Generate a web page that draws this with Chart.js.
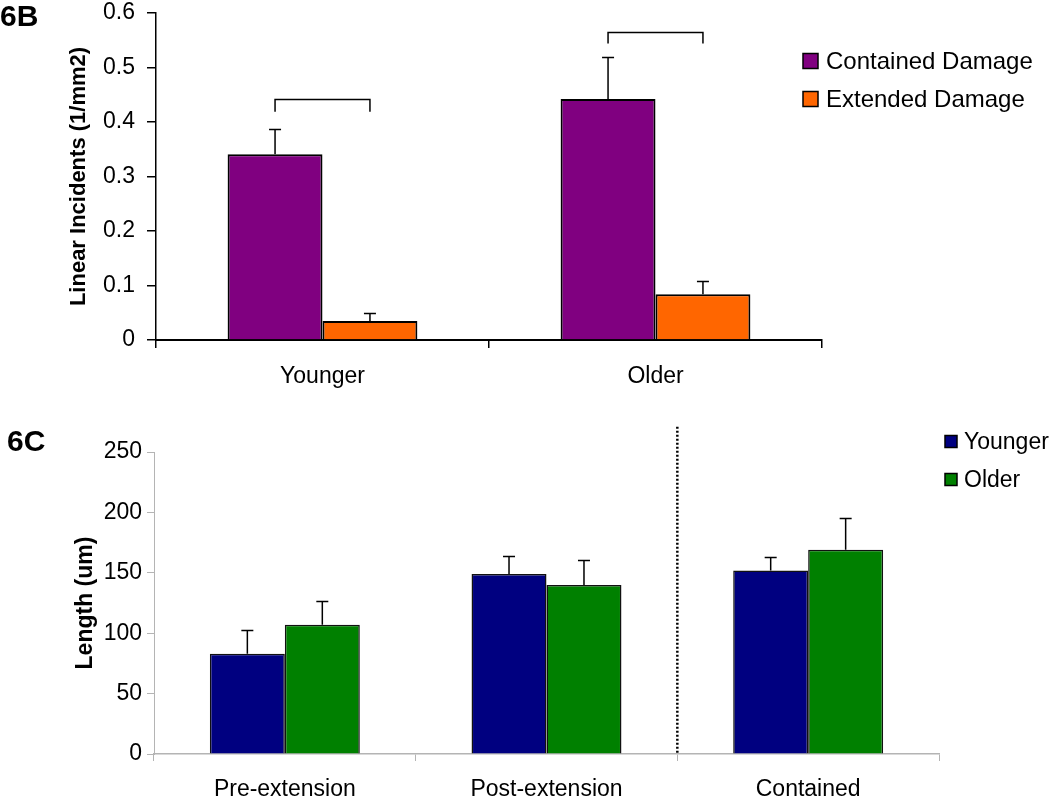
<!DOCTYPE html>
<html>
<head>
<meta charset="utf-8">
<script src="https://cdn.jsdelivr.net/npm/chart.js@4.4.1/dist/chart.umd.min.js"></script>
<style>
  html, body { margin: 0; padding: 0; background: #fff; }
  #wrap { position: relative; width: 1050px; height: 798px; overflow: hidden; }
  canvas { position: absolute; left: 0; }
  #c1 { top: 0; }
  #c2 { top: 395px; }
  .panel { position: absolute; font: bold 30px "Liberation Sans", Arial, sans-serif; line-height: 30px; color: #000; }
</style>
</head>
<body>
<div id="wrap">
  <canvas id="c1" width="1050" height="395"></canvas>
  <canvas id="c2" width="1050" height="403"></canvas>
  <div class="panel" style="left:0;top:1px">6B</div>
  <div class="panel" style="left:7px;top:426px">6C</div>
</div>
<script>
// 6B data
const groupsB = ["Younger", "Older"];
const containedDamage = [0.341, 0.442];
const containedDamageErr = [0.387, 0.519];
const extendedDamage = [0.035, 0.084];
const extendedDamageErr = [0.049, 0.109];
const bracketTop = [0.442, 0.566];
const bracketEnd = [0.419, 0.544];
const yTicksB = [0, 0.1, 0.2, 0.3, 0.4, 0.5, 0.6];

// 6C data
const groupsC = ["Pre-extension", "Post-extension", "Contained"];
const younger = [83, 149, 152];
const youngerErr = [103, 164, 163];
const older = [107, 140, 169];
const olderErr = [127, 161, 195];
const yTicksC = [0, 50, 100, 150, 200, 250];

Chart.defaults.font.family = '"Liberation Sans", Arial, sans-serif';
Chart.defaults.color = "#000";

// upper error bars, values taken from dataset.errorTop
const errorBars = {
  id: "errorBars",
  afterDatasetsDraw(chart, args, opts) {
    const ctx = chart.ctx;
    const y = chart.scales.y;
    ctx.save();
    ctx.strokeStyle = "#000";
    ctx.lineWidth = opts.width;
    chart.data.datasets.forEach((ds, i) => {
      chart.getDatasetMeta(i).data.forEach((bar, j) => {
        const top = Math.round(y.getPixelForValue(ds.errorTop[j])) + 0.5;
        ctx.beginPath();
        ctx.moveTo(bar.x, bar.y);
        ctx.lineTo(bar.x, top);
        ctx.moveTo(bar.x - opts.cap, top);
        ctx.lineTo(bar.x + opts.cap, top);
        ctx.stroke();
      });
    });
    ctx.restore();
  }
};

// square legend
const boxLegend = {
  id: "boxLegend",
  afterDraw(chart, args, o) {
    const ctx = chart.ctx;
    ctx.save();
    ctx.font = o.font;
    ctx.textBaseline = "middle";
    chart.data.datasets.forEach((ds, i) => {
      const cy = o.y + i * o.gap;
      ctx.fillStyle = ds.backgroundColor;
      ctx.fillRect(o.x, cy - o.box / 2, o.box, o.box);
      ctx.strokeStyle = "#000";
      ctx.lineWidth = 1.5;
      ctx.strokeRect(o.x, cy - o.box / 2, o.box, o.box);
      ctx.fillStyle = "#000";
      ctx.fillText(ds.label, o.x + o.box + o.textGap, cy + 1);
    });
    ctx.restore();
  }
};

const brackets = {
  id: "brackets",
  afterDatasetsDraw(chart) {
    const ctx = chart.ctx;
    const y = chart.scales.y;
    const a = chart.getDatasetMeta(0).data;
    const b = chart.getDatasetMeta(1).data;
    ctx.save();
    ctx.strokeStyle = "#000";
    ctx.lineWidth = 1.5;
    bracketTop.forEach((v, j) => {
      const yt = Math.round(y.getPixelForValue(v)) + 0.5;
      const ye = y.getPixelForValue(bracketEnd[j]);
      ctx.beginPath();
      ctx.moveTo(a[j].x, ye);
      ctx.lineTo(a[j].x, yt);
      ctx.lineTo(b[j].x, yt);
      ctx.lineTo(b[j].x, ye);
      ctx.stroke();
    });
    ctx.restore();
  }
};

const divider = {
  id: "divider",
  afterDatasetsDraw(chart, args, o) {
    const ctx = chart.ctx;
    const x = chart.scales.x, y = chart.scales.y;
    const px = (x.getPixelForValue(1) + x.getPixelForValue(2)) / 2;
    ctx.save();
    ctx.strokeStyle = "#000";
    ctx.lineWidth = 2.5;
    ctx.setLineDash([2, 2]);
    ctx.beginPath();
    ctx.moveTo(px, y.getPixelForValue(o.top));
    ctx.lineTo(px, y.getPixelForValue(0));
    ctx.stroke();
    ctx.restore();
  }
};

new Chart(document.getElementById("c1"), {
  type: "bar",
  data: {
    labels: groupsB,
    datasets: [
      { label: "Contained Damage", data: containedDamage, errorTop: containedDamageErr,
        backgroundColor: "#800080", borderColor: "#000", borderWidth: 2 },
      { label: "Extended Damage", data: extendedDamage, errorTop: extendedDamageErr,
        backgroundColor: "#FF6600", borderColor: "#000", borderWidth: 2 }
    ]
  },
  options: {
    responsive: false,
    animation: false,
    categoryPercentage: 0.57,
    barPercentage: 1,
    layout: { padding: { left: 0, right: 228, top: 13, bottom: 0 } },
    plugins: {
      legend: { display: false },
      tooltip: { enabled: false },
      errorBars: { cap: 6, width: 1.5 },
      boxLegend: { x: 803, y: 61, gap: 38, box: 15, textGap: 8, font: '24px "Liberation Sans", Arial, sans-serif' }
    },
    scales: {
      x: {
        grid: { drawOnChartArea: false, tickLength: 8, color: "#000", lineWidth: 1.5 },
        border: { color: "#000", width: 2 },
        ticks: { font: { size: 23 }, padding: 15, maxRotation: 0 },
        afterFit(s) { s.height = 55; }
      },
      y: {
        min: yTicksB[0],
        max: yTicksB[yTicksB.length - 1],
        ticks: { stepSize: 0.1, font: { size: 23 }, padding: 12 },
        grid: { drawOnChartArea: false, tickLength: 9, color: "#000", lineWidth: 1.5 },
        border: { color: "#000", width: 1.5 },
        title: { display: true, text: "Linear Incidents (1/mm2)", font: { size: 22, weight: "bold" }, padding: { top: 66, bottom: 0 } },
        afterFit(s) { s.width = 156; s.paddingTop = 0; s.paddingBottom = 0; }
      }
    }
  },
  plugins: [errorBars, brackets, boxLegend]
});

new Chart(document.getElementById("c2"), {
  type: "bar",
  data: {
    labels: groupsC,
    datasets: [
      { label: "Younger", data: younger, errorTop: youngerErr,
        backgroundColor: "#000080", borderColor: "#111", borderWidth: 1.5 },
      { label: "Older", data: older, errorTop: olderErr,
        backgroundColor: "#008000", borderColor: "#111", borderWidth: 1.5 }
    ]
  },
  options: {
    responsive: false,
    animation: false,
    categoryPercentage: 0.573,
    barPercentage: 1,
    layout: { padding: { left: 0, right: 111, top: 57, bottom: 0 } },
    plugins: {
      legend: { display: false },
      tooltip: { enabled: false },
      errorBars: { cap: 6, width: 1.5 },
      divider: { top: 271 },
      boxLegend: { x: 945, y: 46.5, gap: 38, box: 12, textGap: 7, font: '23px "Liberation Sans", Arial, sans-serif' }
    },
    scales: {
      x: {
        grid: { drawOnChartArea: false, tickLength: 7, color: "#b4b4b4", lineWidth: 1 },
        border: { color: "#b4b4b4", width: 1.5 },
        ticks: { font: { size: 23 }, padding: 15, maxRotation: 0 },
        afterFit(s) { s.height = 44; }
      },
      y: {
        min: yTicksC[0],
        max: yTicksC[yTicksC.length - 1],
        ticks: { stepSize: 50, font: { size: 23 }, padding: 5 },
        grid: { drawOnChartArea: false, tickLength: 7, color: "#b4b4b4", lineWidth: 1 },
        border: { color: "#b4b4b4", width: 1 },
        title: { display: true, text: "Length (um)", font: { size: 23, weight: "bold" }, padding: { top: 72, bottom: 0 } },
        afterFit(s) { s.width = 154; s.paddingTop = 0; s.paddingBottom = 0; }
      }
    }
  },
  plugins: [errorBars, divider, boxLegend]
});
</script>
</body>
</html>
